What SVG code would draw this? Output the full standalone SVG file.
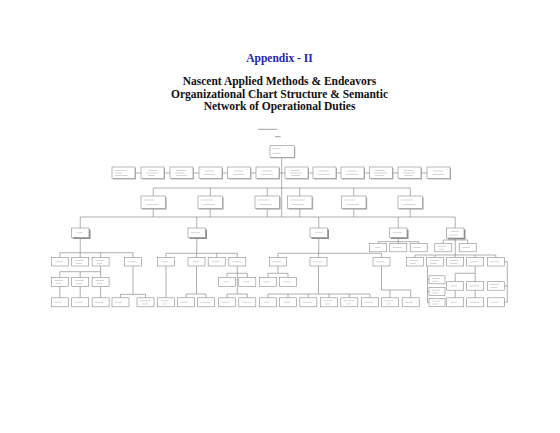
<svg xmlns="http://www.w3.org/2000/svg" width="560" height="433" viewBox="0 0 560 433">
<style>
.bg{fill:#fff}
.ttl{font-family:"Liberation Serif","Times New Roman",serif;font-weight:bold;font-size:11.5px;text-anchor:middle;fill:#111}
.blue{fill:#2323b0}
.c{fill:none;stroke:#7a7a7a;stroke-width:0.6}
.n{fill:#fff;stroke:#8a8a8a;stroke-width:0.6}
.sh{fill:#b5b5b5}
.sh2{fill:#8f8f8f}
.t{fill:none;stroke:#c4c4c4;stroke-width:0.7}
.hd{fill:none;stroke:#8a8a8a;stroke-width:0.8}
</style>
<rect class="bg" x="0" y="0" width="560" height="433"/>
<text class="ttl blue" x="279.5" y="61.5">Appendix - II</text>
<text class="ttl" x="279.5" y="85.2">Nascent Applied Methods &amp; Endeavors</text>
<text class="ttl" x="279.5" y="97.8">Organizational Chart Structure &amp; Semantic</text>
<text class="ttl" x="279.5" y="110.4">Network of Operational Duties</text>
<path class="hd" d="M258 129.3H277.3M275 136.7H280.7"/>

<g id="connectors">
<path class="c" d="M281.7 157.3V217M123 173H438M153.25 188H410.25M153.25 188V196M210.25 188V196M267.25 188V196M299.75 188V196M353.75 188V196M410.25 188V196M153.25 208.5V217M210.25 208.5V217M267.25 208.5V217M299.75 208.5V217M353.75 208.5V217M410.25 208.5V217M80.25 217H455.25M80.25 217V228M196.75 217V228M318.75 217V228M398.25 217V228M455.25 217V228"/>
<path class="c" d="M80.25 237.5V252.7M59.8 252.7H133M59.8 252.7V257.5M80.2 252.7V257.5M100.6 252.7V257.5M133 252.7V257.5M100.6 266V271.7M59.8 271.7H100.6M59.8 271.7V277.3M80.2 271.7V277.3M100.6 271.7V277.3M59.8 286.3V297.8M80.2 286.3V297.8M100.6 286.3V297.8M133 266V294.3M120.5 294.3H145.5M120.5 294.3V297.8M145.5 294.3V297.8"/>
<path class="c" d="M196.75 237.5V253.3M166 253.3H237.3M166 253.3V257.5M196.5 253.3V257.5M216.7 253.3V257.5M237.3 253.3V257.5M166 266V297.8M196.5 266V294M186 294H206M186 294V297.8M206 294V297.8M237.3 266V294M227 273.3H247.3M227 273.3V277.3M247.3 273.3V277.3M227 294H247.3M227 294V297.8M247.3 294V297.8"/>
<path class="c" d="M318.75 237.5V253.3M278 253.3H381.5M278 253.3V257.5M318.5 253.3V257.5M381.5 253.3V257.5M278 266V273.3M268 273.3H288M268 273.3V277.3M288 273.3V277.3M318.5 266V294M268 294H370M268 294V297.8M288 294V297.8M308.3 294V297.8M329 294V297.8M349.3 294V297.8M370 294V297.8M381.5 266V290H410.7M390 290V297.8M410.7 290V297.8"/>
<path class="c" d="M398.25 237.5V243.3M378 241.7H418.7M378 241.7V243.3M418.7 241.7V243.3"/>
<path class="c" d="M455.25 238V257.5M443.3 240H467.7M443.3 240V243.3M467.7 240V243.3M415 255H495.8M415 255V257.5M435 255V257.5M475.2 255V257.5M495.8 255V257.5M427.5 266V302.5M427.5 279.8H429M427.5 291.5H429M427.5 302.5H429M475.2 266V273.3M455.2 273.3H475.2M455.2 273.3V281.7M475.2 273.3V281.7M455.2 290.2V297.8M475.2 290.2V297.8M504.3 261.75H507.3V302.2M504.3 286H507.3M504.3 302.2H507.3"/>
</g>

<g id="top"><rect class="sh" x="271" y="146.7" width="24.3" height="11.6"/><rect class="n" x="270" y="145.7" width="24.3" height="11.6"/><path class="t" d="M272.5 148.6H280.7M272.5 153.4H280.7"/></g>

<g id="L1-1"><rect class="sh" x="113" y="168" width="23" height="11.5"/><rect class="n" x="112" y="167" width="23" height="11.5"/><path class="t" d="M115 170.5H126M115 173H122M115 175.5H128"/></g>
<g id="L1-2"><rect class="sh" x="142" y="168" width="23" height="11.5"/><rect class="n" x="141" y="167" width="23" height="11.5"/><path class="t" d="M148 170.5H157M146 173H158M148 175.5H155"/></g>
<g id="L1-3"><rect class="sh" x="171" y="168" width="23" height="11.5"/><rect class="n" x="170" y="167" width="23" height="11.5"/><path class="t" d="M176 170.5H186M175 173H184M176 175.5H187"/></g>
<g id="L1-4"><rect class="sh" x="200" y="168" width="23" height="11.5"/><rect class="n" x="199" y="167" width="23" height="11.5"/><path class="t" d="M205 171H214M204 174.5H215"/></g>
<g id="L1-5"><rect class="sh" x="228.5" y="168" width="23" height="11.5"/><rect class="n" x="227.5" y="167" width="23" height="11.5"/><path class="t" d="M234 171H243M233 174.5H244"/></g>
<g id="L1-6"><rect class="sh" x="257" y="168" width="23" height="11.5"/><rect class="n" x="256" y="167" width="23" height="11.5"/><path class="t" d="M262 171H272M261 174.5H273"/></g>
<g id="L1-7"><rect class="sh" x="286" y="168" width="23" height="11.5"/><rect class="n" x="285" y="167" width="23" height="11.5"/><path class="t" d="M291 170.5H300M290 173H302M291 175.5H300"/></g>
<g id="L1-8"><rect class="sh" x="314" y="168" width="23" height="11.5"/><rect class="n" x="313" y="167" width="23" height="11.5"/><path class="t" d="M319 171H329M318 174.5H330"/></g>
<g id="L1-9"><rect class="sh" x="342" y="168" width="23" height="11.5"/><rect class="n" x="341" y="167" width="23" height="11.5"/><path class="t" d="M347 171H357M346 174.5H358"/></g>
<g id="L1-10"><rect class="sh" x="370.5" y="168" width="23" height="11.5"/><rect class="n" x="369.5" y="167" width="23" height="11.5"/><path class="t" d="M375 170.5H385M374 173H387M375 175.5H384"/></g>
<g id="L1-11"><rect class="sh" x="399" y="168" width="23" height="11.5"/><rect class="n" x="398" y="167" width="23" height="11.5"/><path class="t" d="M404 170.5H414M403 173H415M404 175.5H413"/></g>
<g id="L1-12"><rect class="sh" x="428" y="168" width="23" height="11.5"/><rect class="n" x="427" y="167" width="23" height="11.5"/><path class="t" d="M433 171H443M432 174.5H444"/></g>

<g id="L2-1"><rect class="sh" x="142.2" y="197.2" width="24.5" height="12.5"/><rect class="n" x="141" y="196" width="24.5" height="12.5"/><path class="t" d="M144 200H154M146 204.5H158"/></g>
<g id="L2-2"><rect class="sh" x="199.2" y="197.2" width="24.5" height="12.5"/><rect class="n" x="198" y="196" width="24.5" height="12.5"/><path class="t" d="M201 200H213M203 204.5H215"/></g>
<g id="L2-3"><rect class="sh" x="256.2" y="197.2" width="24.5" height="12.5"/><rect class="n" x="255" y="196" width="24.5" height="12.5"/><path class="t" d="M258 200H269M260 204.5H272"/></g>
<g id="L2-4"><rect class="sh" x="288.7" y="197.2" width="24.5" height="12.5"/><rect class="n" x="287.5" y="196" width="24.5" height="12.5"/><path class="t" d="M290.5 200H305M292 204.5H304"/></g>
<g id="L2-5"><rect class="sh" x="342.7" y="197.2" width="24.5" height="12.5"/><rect class="n" x="341.5" y="196" width="24.5" height="12.5"/><path class="t" d="M344.5 200H355M347 204.5H359"/></g>
<g id="L2-6"><rect class="sh" x="399.2" y="197.2" width="24.5" height="12.5"/><rect class="n" x="398" y="196" width="24.5" height="12.5"/><path class="t" d="M401 200H413M403 204.5H416"/></g>

<g id="L3-A"><rect class="sh2" x="73" y="229.5" width="17.5" height="9.5"/><rect class="n" x="71.5" y="228" width="17.5" height="9.5"/><path class="t" d="M77 232.7H83"/></g>
<g id="L3-B"><rect class="sh2" x="189.5" y="229.5" width="17.5" height="9.5"/><rect class="n" x="188" y="228" width="17.5" height="9.5"/><path class="t" d="M191 232.7H200"/></g>
<g id="L3-C"><rect class="sh2" x="311.5" y="229.5" width="17.5" height="9.5"/><rect class="n" x="310" y="228" width="17.5" height="9.5"/><path class="t" d="M315 232.7H322"/></g>
<g id="L3-D"><rect class="sh2" x="391" y="229.5" width="17.5" height="9.5"/><rect class="n" x="389.5" y="228" width="17.5" height="9.5"/><path class="t" d="M392.5 232.7H402"/></g>
<g id="L3-E"><rect class="sh2" x="448" y="229.5" width="17.5" height="10"/><rect class="n" x="446.5" y="228" width="17.5" height="10"/><path class="t" d="M451 231.5H459M449.5 235H458"/></g>

<g id="A1"><rect class="n" x="51.3" y="257.5" width="17" height="8.5"/><path class="t" d="M55.3 261.7H63"/></g>
<g id="A2"><rect class="n" x="71.7" y="257.5" width="17" height="8.5"/><path class="t" d="M75 260.5H84M76 263.5H82"/></g>
<g id="A3"><rect class="n" x="92.1" y="257.5" width="17" height="8.5"/><path class="t" d="M95.5 260.5H104M97 263.5H102"/></g>
<g id="A4"><rect class="n" x="124.5" y="257.5" width="17" height="8.5"/><path class="t" d="M128 261.7H137"/></g>
<g id="A3a"><rect class="n" x="51.3" y="277.3" width="17" height="9"/><path class="t" d="M54.5 280.5H63M56 283.5H61"/></g>
<g id="A3b"><rect class="n" x="71.7" y="277.3" width="17" height="9"/><path class="t" d="M75 280.5H84M76 283.5H82"/></g>
<g id="A3c"><rect class="n" x="92.1" y="277.3" width="17" height="9"/><path class="t" d="M95.5 280.5H104M97 283.5H102"/></g>
<g id="A3a1"><rect class="n" x="51.3" y="297.8" width="17" height="9"/><path class="t" d="M54 302.3H62"/></g>
<g id="A3b1"><rect class="n" x="71.7" y="297.8" width="17" height="9"/><path class="t" d="M74.5 302.3H83"/></g>
<g id="A3c1"><rect class="n" x="92.1" y="297.8" width="17" height="9"/><path class="t" d="M95 302.3H103"/></g>
<g id="A4a"><rect class="n" x="112" y="297.8" width="17" height="9"/><path class="t" d="M115 302.3H122"/></g>
<g id="A4b"><rect class="n" x="137" y="297.8" width="17" height="9"/><path class="t" d="M140 300.8H150M142 304H149"/></g>

<g id="B1"><rect class="n" x="157.5" y="257.5" width="17" height="8.5"/><path class="t" d="M161 261.7H168"/></g>
<g id="B2"><rect class="n" x="188" y="257.5" width="17" height="8.5"/><path class="t" d="M193 261.7H199"/></g>
<g id="B3"><rect class="n" x="208.2" y="257.5" width="17" height="8.5"/><path class="t" d="M211.5 261.7H220"/></g>
<g id="B4"><rect class="n" x="228.8" y="257.5" width="17" height="8.5"/><path class="t" d="M232 261.7H241"/></g>
<g id="B1a"><rect class="n" x="157.5" y="297.8" width="17" height="9"/><path class="t" d="M161 300.8H168M162 304H167"/></g>
<g id="B2a"><rect class="n" x="177.5" y="297.8" width="17" height="9"/><path class="t" d="M180.5 302.3H188"/></g>
<g id="B2b"><rect class="n" x="197.5" y="297.8" width="17" height="9"/><path class="t" d="M200.5 302.3H210"/></g>
<g id="B4a"><rect class="n" x="218.5" y="277.3" width="17" height="9"/><path class="t" d="M224 281.8H229"/></g>
<g id="B4b"><rect class="n" x="238.8" y="277.3" width="17" height="9"/><path class="t" d="M243 281.8H250"/></g>
<g id="B4c"><rect class="n" x="218.5" y="297.8" width="17" height="9"/><path class="t" d="M221.5 302.3H230"/></g>
<g id="B4d"><rect class="n" x="238.8" y="297.8" width="17" height="9"/><path class="t" d="M242 302.3H251"/></g>

<g id="C1"><rect class="n" x="269.5" y="257.5" width="17" height="8.5"/><path class="t" d="M272.5 261.7H281"/></g>
<g id="C2"><rect class="n" x="310" y="257.5" width="17" height="8.5"/><path class="t" d="M313 261.7H322"/></g>
<g id="C3"><rect class="n" x="373" y="257.5" width="17" height="8.5"/><path class="t" d="M376 261.7H384"/></g>
<g id="C1a"><rect class="n" x="259.5" y="277.3" width="17" height="9"/><path class="t" d="M263 281.8H270"/></g>
<g id="C1b"><rect class="n" x="279.5" y="277.3" width="17" height="9"/><path class="t" d="M283 281.8H290"/></g>
<g id="C2a"><rect class="n" x="259.5" y="297.8" width="17" height="9"/><path class="t" d="M264 302.3H270"/></g>
<g id="C2b"><rect class="n" x="279.5" y="297.8" width="17" height="9"/><path class="t" d="M284 302.3H290"/></g>
<g id="C2c"><rect class="n" x="299.8" y="297.8" width="17" height="9"/><path class="t" d="M303 302.3H312"/></g>
<g id="C2d"><rect class="n" x="320.5" y="297.8" width="17" height="9"/><path class="t" d="M324 300.8H332M325 304H330"/></g>
<g id="C2e"><rect class="n" x="340.8" y="297.8" width="17" height="9"/><path class="t" d="M344 300.8H354M346 304H351"/></g>
<g id="C2f"><rect class="n" x="361.5" y="297.8" width="17" height="9"/><path class="t" d="M364.5 302.3H373"/></g>
<g id="C3a"><rect class="n" x="381.5" y="297.8" width="17" height="9"/><path class="t" d="M384.5 300.8H393M386 304H391"/></g>
<g id="C3b"><rect class="n" x="402.2" y="297.8" width="17" height="9"/><path class="t" d="M405 302.3H413"/></g>

<g id="D1"><rect class="n" x="369.5" y="243.3" width="17" height="8.5"/><path class="t" d="M375 247.5H380"/></g>
<g id="D2"><rect class="n" x="389.8" y="243.3" width="17" height="8.5"/><path class="t" d="M393 247.5H402"/></g>
<g id="D3"><rect class="n" x="410.2" y="243.3" width="17" height="8.5"/><path class="t" d="M413.5 247.5H421"/></g>

<g id="E1"><rect class="n" x="434.8" y="243.3" width="17" height="8.5"/><path class="t" d="M438 246.3H446M439 249.3H444"/></g>
<g id="E2"><rect class="n" x="459.2" y="243.3" width="17" height="8.5"/><path class="t" d="M462.5 247.5H470"/></g>
<g id="E3"><rect class="n" x="406.5" y="257.5" width="17" height="8.5"/><path class="t" d="M409.5 260.5H418M410 263.5H416"/></g>
<g id="E4"><rect class="n" x="426.5" y="257.5" width="17" height="8.5"/><path class="t" d="M430 260.5H439M430 263.5H437"/></g>
<g id="E5"><rect class="n" x="446.7" y="257.5" width="17" height="8.5"/><path class="t" d="M450 260.5H458M450 263.5H457"/></g>
<g id="E6"><rect class="n" x="466.7" y="257.5" width="17" height="8.5"/><path class="t" d="M470 261.7H478"/></g>
<g id="E7"><rect class="n" x="487.3" y="257.5" width="17" height="8.5"/><path class="t" d="M490.5 261.7H499"/></g>
<g id="E4a"><rect class="n" x="429" y="275.8" width="16" height="8"/><path class="t" d="M432 278.5H440M432 281.3H438"/></g>
<g id="E4b"><rect class="n" x="429" y="287.5" width="16" height="8"/><path class="t" d="M432 290.2H440M432 293H438"/></g>
<g id="E4c"><rect class="n" x="429" y="298.5" width="16" height="8"/><path class="t" d="M432 301.2H440M432 304H438"/></g>
<g id="E6a"><rect class="n" x="446.7" y="281.7" width="17" height="8.5"/><path class="t" d="M451 285.9H457"/></g>
<g id="E6b"><rect class="n" x="466.7" y="281.7" width="17" height="8.5"/><path class="t" d="M470 285.9H479"/></g>
<g id="E7a"><rect class="n" x="487.3" y="281.7" width="17" height="8.5"/><path class="t" d="M490.5 284.5H499M491 287.5H497"/></g>
<g id="E6c"><rect class="n" x="446.7" y="297.8" width="17" height="9"/><path class="t" d="M451 302.3H457"/></g>
<g id="E6d"><rect class="n" x="466.7" y="297.8" width="17" height="9"/><path class="t" d="M470 302.3H479"/></g>
<g id="E7b"><rect class="n" x="487.3" y="297.8" width="17" height="9"/><path class="t" d="M491 302.3H498"/></g>
</svg>
